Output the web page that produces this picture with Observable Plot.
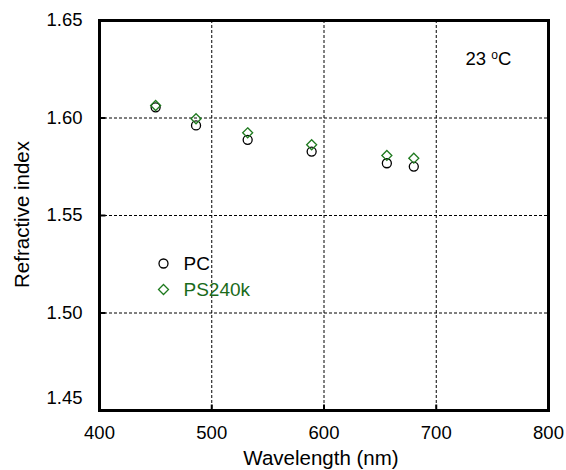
<!DOCTYPE html>
<html><head><meta charset="utf-8">
<script src="https://cdn.jsdelivr.net/npm/d3@7"></script>
<script src="https://cdn.jsdelivr.net/npm/@observablehq/plot@0.6"></script>
<style>body{margin:0;background:#fff}</style>
</head><body><div id="chart"></div>
<script>
const wavelengths = [450, 486, 532, 589, 656, 680];
const pcIndex = [1.6055, 1.5962, 1.5888, 1.5828, 1.5768, 1.5751];
const psIndex = [1.6064, 1.5996, 1.5924, 1.5863, 1.5808, 1.5794];
const xTicks = [400, 500, 600, 700, 800];
const yTicksMain = [1.50, 1.55, 1.60, 1.65];
const yTickLow = [1.45];
const gridX = [500, 600, 700];
const gridY = [1.50, 1.55, 1.60];
const seriesNames = ["PC", "PS240k"];
const xLabel = "Wavelength (nm)";
const yLabel = "Refractive index";
const tempParts = ["23 ", "o", "C"];

const green = "#1f7a1f";
const greenText = "#1a6b1a";
const FS = 18.5;
const LFS = 20.5;

const pc = wavelengths.map((w, i) => ({w, n: pcIndex[i]}));
const ps = wavelengths.map((w, i) => ({w, n: psIndex[i]}));

const tickRight = {draw(ctx) { ctx.moveTo(0, 0); ctx.lineTo(6, 0); }};
const tickUp = {draw(ctx) { ctx.moveTo(0, 0); ctx.lineTo(0, -6); }};

const chart = Plot.plot({
  width: 566, height: 470,
  marginLeft: 99, marginRight: 18, marginTop: 20, marginBottom: 60,
  style: {fontFamily: "'Liberation Sans', Arial, sans-serif", fontSize: FS + "px", background: "#fff", color: "#000"},
  x: {domain: [400, 800], label: null, axis: null},
  y: {domain: [1.45, 1.65], label: null, axis: null},
  marks: [
    Plot.ruleX(gridX, {x: d => d, stroke: "#000", strokeWidth: 1, strokeDasharray: "3,2"}),
    Plot.ruleY(gridY, {y: d => d, stroke: "#000", strokeWidth: 1, strokeDasharray: "3,2"}),
    Plot.dot(gridY, {y: d => d, frameAnchor: "left", symbol: tickRight, r: 6, stroke: "#000", strokeWidth: 2}),
    Plot.dot(gridX, {x: d => d, frameAnchor: "bottom", symbol: tickUp, r: 6, stroke: "#000", strokeWidth: 2}),
    Plot.frame({stroke: "#000", strokeWidth: 3}),
    Plot.axisY(yTicksMain, {tickSize: 0, tickPadding: 17, fontSize: FS, label: null, tickFormat: d3.format(".2f")}),
    Plot.axisY(yTickLow, {tickSize: 0, tickPadding: 17, fontSize: FS, label: null, tickFormat: d3.format(".2f"), dy: -12}),
    Plot.axisX(xTicks, {tickSize: 0, tickPadding: 15, fontSize: FS, label: null}),
    Plot.text([xLabel], {text: d => d, frameAnchor: "bottom", lineAnchor: "middle", textAnchor: "middle", dx: -3, dy: 48, fontSize: LFS}),
    Plot.text([yLabel], {text: d => d, frameAnchor: "left", lineAnchor: "middle", textAnchor: "middle", dx: -77, dy: -1, rotate: -90, fontSize: LFS}),
    Plot.dot(pc, {x: "w", y: "n", r: 4.5, stroke: "#000", strokeWidth: 1.3, fill: "none"}),
    Plot.dot(ps, {x: "w", y: "n", symbol: "diamond2", r: 4.5, stroke: green, strokeWidth: 1.3, fill: "none"}),
    Plot.dot([seriesNames[0]], {frameAnchor: "top-left", dx: 64, dy: 243, r: 4.5, stroke: "#000", strokeWidth: 1.3, fill: "none"}),
    Plot.dot([seriesNames[1]], {frameAnchor: "top-left", dx: 64, dy: 269, symbol: "diamond2", r: 4.5, stroke: green, strokeWidth: 1.3, fill: "none"}),
    Plot.text([seriesNames[0]], {text: d => d, frameAnchor: "top-left", lineAnchor: "middle", dx: 84, dy: 243, textAnchor: "start", fontSize: 19, fill: "#000"}),
    Plot.text([seriesNames[1]], {text: d => d, frameAnchor: "top-left", lineAnchor: "middle", dx: 84, dy: 269, textAnchor: "start", fontSize: 19, fill: greenText}),
    Plot.text([tempParts.join("")], {text: d => d, frameAnchor: "top-left", lineAnchor: "middle", dx: 366, dy: 39, textAnchor: "start", fontSize: FS})
  ]
});

// superscript the "o" in the temperature label
d3.select(chart).selectAll("text").filter(function() { return this.textContent === tempParts.join(""); })
  .each(function() {
    const t = d3.select(this);
    t.text(null);
    t.append("tspan").text(tempParts[0]);
    t.append("tspan").attr("dy", -6).attr("font-size", 12).text(tempParts[1]);
    t.append("tspan").attr("dy", 6).text(tempParts[2]);
  });

document.getElementById("chart").appendChild(chart);
</script>
</body></html>
